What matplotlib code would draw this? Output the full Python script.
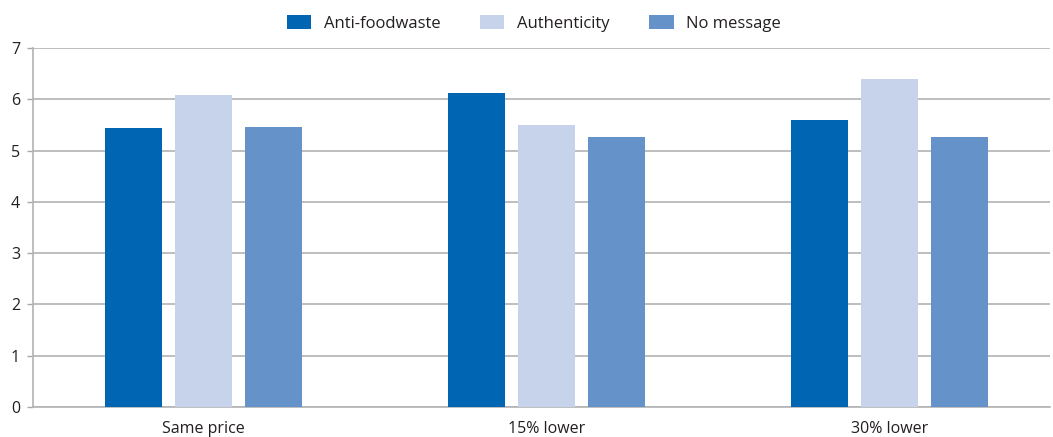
import matplotlib.pyplot as plt
import numpy as np

# Data
categories = ['Same price', '15% lower', '30% lower']
series_names = ['Anti-foodwaste', 'Authenticity', 'No message']
anti_foodwaste = [5.44, 6.12, 5.59]
authenticity = [6.08, 5.50, 6.39]
no_message = [5.46, 5.26, 5.26]
colors = ['#0066b3', '#c7d3eb', '#6692ca']

plt.rcParams['font.family'] = ['Open Sans', 'DejaVu Sans']

fig = plt.figure(figsize=(10.53, 4.37), dpi=100)
ax = fig.add_axes([0.031, 0.069, 0.966, 0.821])

x = np.arange(len(categories))
width = 0.166
step = 0.204
for i, (vals, name, c) in enumerate(zip([anti_foodwaste, authenticity, no_message], series_names, colors)):
    ax.bar(x + (i - 1) * step, vals, width=width, color=c, label=name, zorder=3)

ax.set_xlim(-0.497, 2.468)
ax.set_ylim(0, 7)
ax.set_yticks(range(0, 8))
ax.set_xticks(x)
ax.set_xticklabels(categories, fontsize=11.5, color='#231f20')
ax.tick_params(axis='y', labelsize=11.5, colors='#231f20', length=4, color='#a6a6a6', width=1, pad=5)
ax.tick_params(axis='x', length=0, pad=10)
for lab in ax.get_yticklabels():
    lab.set_color('#231f20')

ax.grid(axis='y', color='#b3b3b3', linewidth=1.2, zorder=0)
for side in ['top', 'right']:
    ax.spines[side].set_visible(False)
ax.spines['left'].set_color('#b3b3b3')
ax.spines['bottom'].set_color('#b3b3b3')
ax.spines['left'].set_linewidth(1.2)
ax.spines['bottom'].set_linewidth(1.2)

leg = fig.legend(loc='center', bbox_to_anchor=(0.507, 0.946), ncol=3, frameon=False,
                 fontsize=12, handlelength=1.45, handleheight=0.85, columnspacing=2.4,
                 handletextpad=0.75)
for t in leg.get_texts():
    t.set_color('#231f20')

fig.savefig('out.png', dpi=100)
